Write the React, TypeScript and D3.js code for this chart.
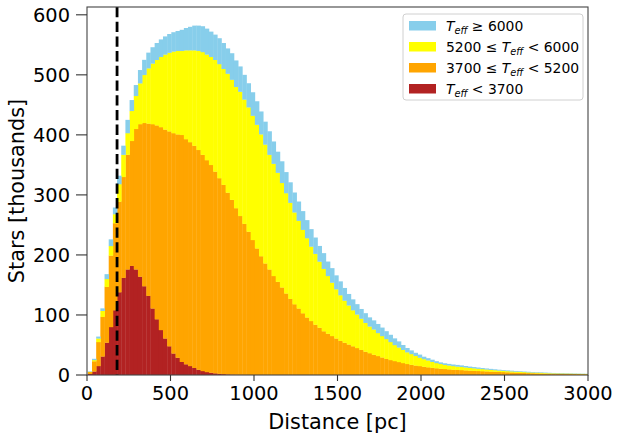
import React from "react";
import * as d3 from "d3";

// Histogram: 25 pc bins starting at 5 pc; values in thousands of stars
const binStart = 5;
const binWidth = 25;

const coolStars = [
  2, 6, 15, 31, 54, 80, 108, 138, 162, 176, 182, 176, 164, 148, 132, 111, 93, 75, 61, 48,
  36, 29, 22, 18, 15, 12, 9, 6.7, 5, 4, 3, 2.2, 1.6, 1.2, 0.9, 0.7, 0.5, 0.4, 0.3, 0.2,
  0.15, 0.1, 0.1, 0, 0, 0, 0, 0, 0, 0, 0, 0, 0, 0, 0, 0, 0, 0, 0, 0,
  0, 0, 0, 0, 0, 0, 0, 0, 0, 0, 0, 0, 0, 0, 0, 0, 0, 0, 0, 0,
  0, 0, 0, 0, 0, 0, 0, 0, 0, 0, 0, 0, 0, 0, 0, 0, 0, 0, 0, 0,
  0, 0, 0, 0, 0, 0, 0, 0, 0, 0, 0, 0, 0, 0, 0, 0, 0, 0, 0, 0,
];

const kStars = [
  3, 17, 40, 66, 93, 119, 145, 151, 168, 191, 208, 234, 254, 272, 287, 307, 323, 338, 348, 358,
  367, 372, 378, 375, 373, 370, 366, 360.3, 353, 346, 336, 325.8, 315.4, 302.8, 291.1, 277.3, 264.5, 251.6, 238.7, 224.8,
  210.85, 197.9, 185.9, 176, 165, 155.5, 146, 136, 127, 118, 111, 103, 96, 90, 84, 79, 73, 69, 65, 61,
  57, 54, 51, 48, 45, 42, 39, 36.5, 34, 31.7, 29.4, 27, 25, 23.3, 21.7, 20, 18.5, 17.2, 16, 15,
  14, 13, 12.2, 11.4, 10.7, 10.1, 9.6, 9.1, 8.7, 8.3, 7.9, 7.5, 7.1, 6.8, 6.5, 6.2, 5.9, 5.6, 5.3, 5.0,
  4.7, 4.4, 4.1, 3.8, 3.6, 3.3, 3.1, 2.9, 2.7, 2.5, 2.4, 2.2, 2.1, 2.0, 1.9, 1.8, 1.7, 1.6, 1.5, 1.4,
];

const gStars = [
  0.5, 2, 6, 10, 13, 16, 15, 29, 37, 36, 50, 55, 68, 80, 92, 101, 109, 117, 125, 131,
  136, 139, 140, 148, 153, 159, 165, 171, 176, 180, 186, 190, 193, 198, 200, 202, 207, 207, 207, 207,
  206, 203, 198, 191, 187, 181.5, 174, 167, 160, 153, 146, 139, 132, 124, 118, 110, 104, 96, 89, 82,
  76, 70, 65, 60, 56, 52, 48, 44.5, 42, 38.3, 35.6, 33, 30, 26.7, 24.3, 22, 19.5, 17.8, 16, 14,
  12.5, 11.5, 9.8, 8.6, 7.8, 6.9, 6.4, 5.9, 5.5, 5.3, 4.9, 4.5, 4.2, 3.8, 3.5, 3.2, 2.9, 2.6, 2.3, 2.1,
  1.9, 1.8, 1.7, 1.6, 1.4, 1.3, 1.2, 1.1, 1.0, 0.9, 0.8, 0.8, 0.7, 0.6, 0.5, 0.5, 0.4, 0.4, 0.4, 0.4,
];

const hotStars = [
  0.5, 2, 3, 4, 8, 11, 11, 14, 15, 22, 18, 18, 22, 25, 26, 27, 28, 29, 30, 31,
  32, 33, 35, 37, 39, 41, 42, 43, 43, 42, 42, 43, 43, 42, 44, 44, 42, 41, 40, 39,
  39, 38, 38, 39, 37, 35, 36, 35, 34, 33, 32, 31, 30, 29, 27, 26, 26, 24, 24, 23,
  23, 21, 19, 18, 17, 16, 16, 15, 15, 15, 14, 13, 12, 11, 10, 8, 7, 6, 5, 5,
  4, 3.5, 3.5, 3, 2.5, 2.5, 2.5, 2.5, 2.6, 2.4, 2.2, 2.0, 1.9, 1.8, 1.6, 1.5, 1.4, 1.3, 1.2, 1.1,
  1.1, 1.0, 0.9, 0.8, 0.8, 0.8, 0.7, 0.6, 0.6, 0.6, 0.5, 0.4, 0.4, 0.4, 0.4, 0.3, 0.3, 0.2, 0.2, 0.2,
];

const seriesKeys = ["cool", "k", "g", "hot"];
const seriesColors = ["#B22222", "#FFA500", "#FFFF00", "#87CEEB"];
const xTicks = [0, 500, 1000, 1500, 2000, 2500, 3000];
const yTicks = [0, 100, 200, 300, 400, 500, 600];
const xDomain = [0, 3000];
const yDomain = [0, 613];
const cutDistance = 180;

const W = 623;
const H = 435;
const M = { left: 87, right: 588, top: 7, bottom: 375 };
const FONT = "DejaVu Sans, sans-serif";

function Teff({ before, after }: { before?: string; after?: string }) {
  return (
    <>
      {before ? <tspan>{before}</tspan> : null}
      <tspan fontStyle="italic">T</tspan>
      <tspan fontStyle="italic" fontSize={9.7} dy={3}>eff</tspan>
      <tspan dy={-3}>{after}</tspan>
    </>
  );
}

export default function App() {
  const x = d3.scaleLinear().domain(xDomain).range([M.left, M.right]);
  const y = d3.scaleLinear().domain(yDomain).range([M.bottom, M.top]);

  const rows = coolStars.map((_, i) => ({
    x0: binStart + i * binWidth,
    x1: binStart + (i + 1) * binWidth,
    cool: coolStars[i],
    k: kStars[i],
    g: gStars[i],
    hot: hotStars[i],
  }));
  const stacked = d3.stack<any>().keys(seriesKeys)(rows);

  const legendItems = [
    { color: seriesColors[3], label: <Teff after=" ≥ 6000" /> },
    { color: seriesColors[2], label: <Teff before="5200 ≤ " after=" <  6000" /> },
    { color: seriesColors[1], label: <Teff before="3700 ≤ " after=" <  5200" /> },
    { color: seriesColors[0], label: <Teff after=" <  3700" /> },
  ];

  return (
    <svg
      width={W}
      height={H}
      style={{ position: "absolute", left: 0, top: 0, background: "#fff" }}
      fontFamily={FONT}
    >
      <defs>
        <clipPath id="plot">
          <rect x={M.left} y={M.top} width={M.right - M.left} height={M.bottom - M.top} />
        </clipPath>
      </defs>
      <g clipPath="url(#plot)">
        {stacked.map((layer, si) => (
          <g key={seriesKeys[si]} fill={seriesColors[si]}>
            {layer.map((d, i) => {
              const r = rows[i];
              const h = y(d[0]) - y(d[1]);
              if (h <= 0) return null;
              return (
                <rect
                  key={i}
                  x={x(r.x0)}
                  width={x(r.x1) - x(r.x0) + 0.35}
                  y={y(d[1])}
                  height={h + 0.2}
                />
              );
            })}
          </g>
        ))}
        <line
          x1={x(cutDistance)}
          x2={x(cutDistance)}
          y1={M.top}
          y2={M.bottom}
          stroke="#000"
          strokeWidth={2.8}
          strokeDasharray="10.3 4.4"
        />
      </g>

      {/* frame */}
      <rect
        x={M.left}
        y={M.top}
        width={M.right - M.left}
        height={M.bottom - M.top}
        fill="none"
        stroke="#444"
        strokeWidth={1.1}
      />

      {/* x ticks */}
      {xTicks.map((t) => (
        <g key={t}>
          <line x1={x(t)} x2={x(t)} y1={M.bottom} y2={M.bottom + 6} stroke="#333" strokeWidth={1.1} />
          <text x={x(t)} y={400} textAnchor="middle" fontSize={19.4} fill="#000">
            {t}
          </text>
        </g>
      ))}
      {/* y ticks */}
      {yTicks.map((t) => (
        <g key={t}>
          <line x1={M.left - 11} x2={M.left} y1={y(t)} y2={y(t)} stroke="#333" strokeWidth={1.1} />
          <text x={70} y={y(t) + 7} textAnchor="end" fontSize={19.4} fill="#000">
            {t}
          </text>
        </g>
      ))}

      <text x={(M.left + M.right) / 2} y={429} textAnchor="middle" fontSize={20.8} fill="#000">
        Distance [pc]
      </text>
      <text
        transform={`translate(24, ${(M.top + M.bottom) / 2}) rotate(-90)`}
        textAnchor="middle"
        fontSize={20.8}
        fill="#000"
      >
        Stars [thousands]
      </text>

      {/* legend */}
      <rect x={403} y={14} width={180} height={86} rx={3} fill="#fff" fillOpacity={0.8} stroke="#d0d0d0" />
      {legendItems.map((it, i) => (
        <g key={i}>
          <rect x={409} y={21 + i * 21} width={27} height={9.5} fill={it.color} />
          <text x={446} y={30.5 + i * 21} fontSize={13.9} fill="#000">
            {it.label}
          </text>
        </g>
      ))}
    </svg>
  );
}
